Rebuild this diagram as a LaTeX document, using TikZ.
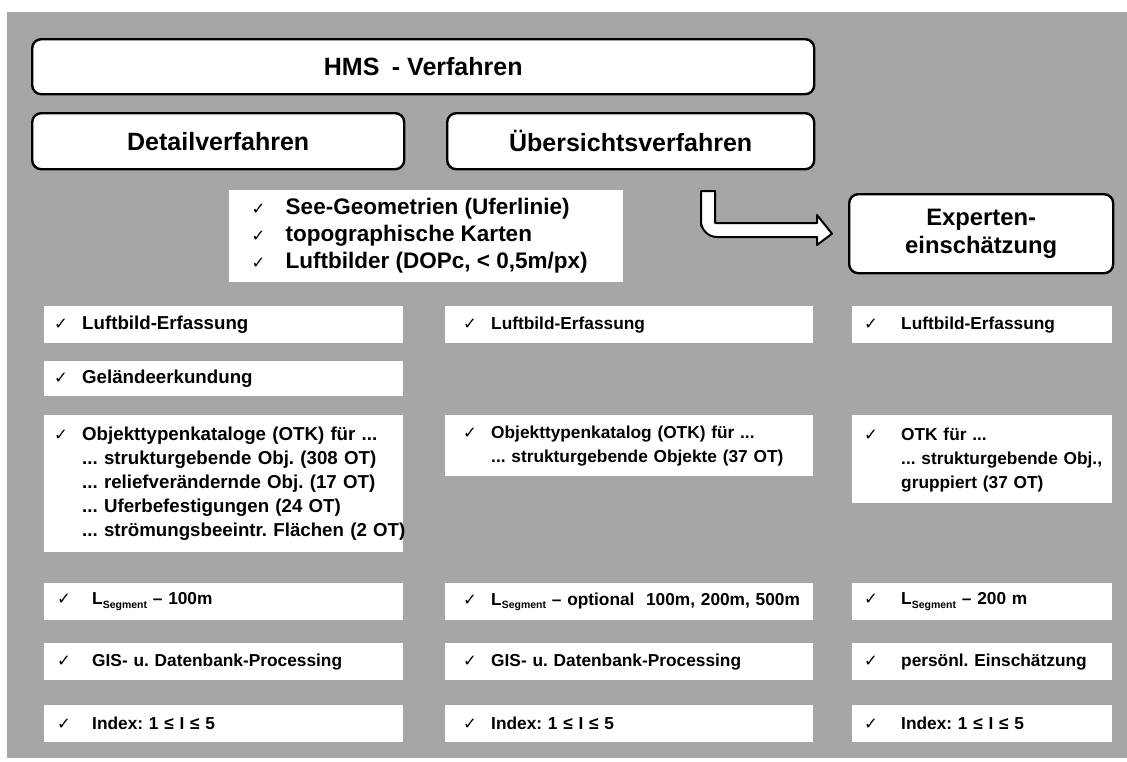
\documentclass[tikz,border=0pt]{standalone}
\usepackage{fontspec}
\setmainfont{Liberation Sans}
\newfontfamily\chkfont{DejaVu Sans}
\frenchspacing
\definecolor{panel}{RGB}{166,166,166}
\newcommand\chk[2]{\hspace*{#1}\makebox[\dimexpr#2-#1\relax][l]{\chkfont\mdseries\fontsize{16.5}{16}\selectfont ✓}}
\newcommand\lines[1]{\begin{tabular}[t]{@{}l@{}}#1\end{tabular}}
\newcommand\seg{L\raisebox{-0.4ex}{\fontsize{10.5}{11}\selectfont Segment}}
\tikzset{
headbox/.style={draw, line width=2.4pt, rounded corners=9pt, fill=white, anchor=north west,
	inner sep=0pt, font=\fontsize{25}{28}\selectfont\bfseries},
itembox/.style={fill=white, anchor=north west, inner xsep=0pt, inner ysep=0pt,
	text width=#1, align=left, minimum height=37pt, font=\fontsize{17.3}{24}\selectfont\bfseries},
bigitem/.style={font=\fontsize{18.7}{24}\selectfont\bfseries},
bentarrow/.style={draw, line width=2pt, fill=white, line join=round},
}

\begin{document}
\begin{tikzpicture}[x=1pt, y=-1pt]
\useasboundingbox (0,0) rectangle (1127,761);
\fill[panel] (7,12) rectangle (1127,758);

%Place the header nodes
\node[headbox, minimum width=782pt, minimum height=55pt] (hms) at (31,38) {HMS\enspace- Verfahren};
\node[headbox, minimum width=372pt, minimum height=56pt] (detail) at (31,112) {Detailverfahren};
\node[headbox, minimum width=367pt, minimum height=56pt] (overview) at (446,112) {Übersichtsverfahren};
\node[headbox, minimum width=264pt, minimum height=79pt, align=center,
	font=\fontsize{23.8}{28}\selectfont\bfseries] (expert) at (848,193) {Experten-\\einschätzung};

\node[fill=white, anchor=north west, inner sep=0pt, minimum width=394pt, minimum height=92pt,
	font=\fontsize{22.5}{27}\selectfont\bfseries] (sources) at (229,190)
	{\begin{tabular}{@{}l@{}l@{}}
	\chk{13pt}{47pt} & See-Geometrien (Uferlinie)\\
	\chk{13pt}{47pt} & topographische Karten\\
	\chk{13pt}{47pt} & Luftbilder (DOPc, < 0,5m/px)
	\end{tabular}\hspace*{26pt}};

%Arrow to the expert box
\coordinate (arrtop) at (701,191);
\draw[bentarrow] (arrtop) -- (715,191) -- (715,223) -- (817,223) -- (817,215) -- (expert.west -| 832,0)
	-- (817,245) -- (817,237) -- (760,237) [rounded corners=16pt] -- (701,237) -- (701,210)
	[sharp corners] -- cycle;

%Detail column
\node[itembox=359pt, bigitem] (d1) at (44,306) {\chk{10pt}{38pt}Luftbild-Erfassung};
\node[itembox=359pt, bigitem, minimum height=35pt] (d2) at (44,361) {\chk{10pt}{38pt}Geländeerkundung};
\node[itembox=359pt, bigitem, minimum height=137pt] (d3) at (44,415) {\chk{10pt}{38pt}\lines{Objekttypenkataloge (OTK) für ...\\
	... strukturgebende Obj. (308 OT)\\ ... reliefverändernde Obj. (17 OT)\\
	... Uferbefestigungen (24 OT)\\ ... strömungsbeeintr. Flächen (2 OT)}};
\node[itembox=359pt] (d4) at (44,583) {\chk{13pt}{48pt}\seg{} – 100m};
\node[itembox=359pt] (d5) at (44,643) {\chk{13pt}{48pt}GIS- u. Datenbank-Processing};
\node[itembox=359pt] (d6) at (44,705) {\chk{13pt}{48pt}Index: 1 ≤ I ≤ 5};

%Overview column
\node[itembox=368pt] (o1) at (445,306) {\chk{18pt}{46pt}Luftbild-Erfassung};
\node[itembox=368pt, minimum height=61pt] (o2) at (445,415) {\chk{18pt}{46pt}\lines{Objekttypenkatalog (OTK) für ...\\
	... strukturgebende Objekte (37 OT)}};
\node[itembox=368pt] (o3) at (445,583) {\chk{18pt}{46pt}\mbox{\seg{} – optional\ \ 100m, 200m, 500m}};
\node[itembox=368pt] (o4) at (445,643) {\chk{18pt}{46pt}GIS- u. Datenbank-Processing};
\node[itembox=368pt] (o5) at (445,705) {\chk{18pt}{46pt}Index: 1 ≤ I ≤ 5};

%Expert column
\node[itembox=260pt] (e1) at (852,306) {\chk{12pt}{49pt}Luftbild-Erfassung};
\node[itembox=260pt, minimum height=88pt] (e2) at (852,415) {\chk{12pt}{49pt}\lines{OTK für ...\\
	... strukturgebende Obj.,\\ gruppiert (37 OT)}};
\node[itembox=260pt] (e3) at (852,583) {\chk{12pt}{49pt}\seg{} – 200 m};
\node[itembox=260pt] (e4) at (852,643) {\chk{12pt}{49pt}persönl. Einschätzung};
\node[itembox=260pt] (e5) at (852,705) {\chk{12pt}{49pt}Index: 1 ≤ I ≤ 5};
\end{tikzpicture}
\end{document}
